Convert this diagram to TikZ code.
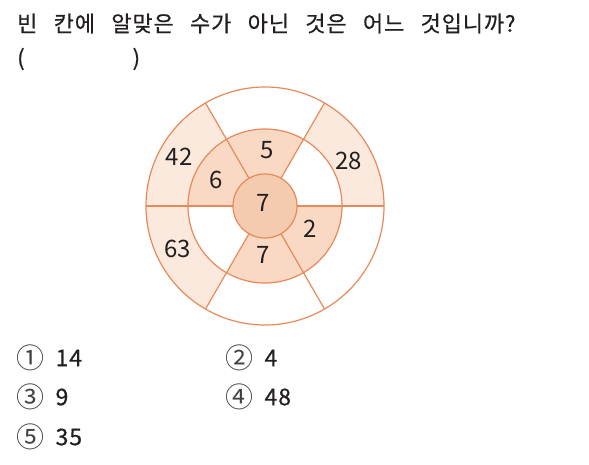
\documentclass[tikz,border=0pt]{standalone}
\usepackage{fontspec}
\setmainfont{Noto Sans CJK KR}
\newfontfamily\questionfont[FakeBold = 0.6, LetterSpace = 4, WordSpace = 2.8]{Noto Sans CJK KR}
\usetikzlibrary{positioning}
\definecolor{wheelorange}{HTML}{E8895A}
\definecolor{outerfill}{HTML}{FCE9DD}
\definecolor{midfill}{HTML}{F9D9C4}
\definecolor{hubfill}{HTML}{F5CBB0}
\definecolor{inkgray}{HTML}{231F20}
\tikzset{
  qtext/.style = {anchor = west, inner sep = 0pt, text = inkgray, font = \questionfont\fontsize{22}{26}\selectfont},
  numtext/.style = {inner sep = 0pt, text = inkgray, font = \fontsize{24}{28}\selectfont},
  marktext/.style = {anchor = west, inner sep = 0pt, text = inkgray!85, font = \fontsize{28}{30}\selectfont},
  opttext/.style = {anchor = west, inner sep = 0pt, text = inkgray, font = \questionfont\fontsize{23}{26}\selectfont},
  wheelline/.style = {draw = wheelorange, line width = 1.2pt}
}
\begin{document}
\begin{tikzpicture}[x = 1pt, y = 1pt]
  \useasboundingbox (0, 0) rectangle (589, -464);
  % question
  \node[qtext] (title) at (17, -23.5) {빈 칸에 알맞은 수가 아닌 것은 어느 것입니까?};
  \node[qtext] (blank) at (17, -59) {(\hspace{108pt})};

  % wheel
  \begin{scope}[shift = {(265, -206)}]
    \foreach \a/\b in {0/60, 120/180, 180/240}
      \fill[outerfill] (\a:77) arc[start angle = \a, end angle = \b, radius = 77] -- (\b:119) arc[start angle = \b, end angle = \a, radius = 119] -- cycle;
    \foreach \a/\b in {60/120, 120/180, 240/300, 300/360}
      \fill[midfill] (\a:32) arc[start angle = \a, end angle = \b, radius = 32] -- (\b:77) arc[start angle = \b, end angle = \a, radius = 77] -- cycle;
    \draw[wheelline] (0, 0) circle[radius = 119];
    \draw[wheelline] (0, 0) circle[radius = 77];
    \foreach \a in {0, 60, ..., 300}
      \draw[wheelline] (\a:32) -- (\a:119);
    \filldraw[wheelline, fill = hubfill] (0, 0) circle[radius = 32];

    \node[numtext] (hub) at (-2, 3) {7};
    \node[numtext] (top) at (88:56) {5};
    \node[numtext] (upleft) at (152:55) {6};
    \node[numtext] (lowright) at (-27:51) {2};
    \node[numtext] (bottom) at (268:49) {7};
    \node[numtext] (outer28) at (28:95) {28};
    \node[numtext] (outer42) at (150:99) {42};
    \node[numtext] (outer63) at (206:97) {63};
  \end{scope}

  % choices
  \node[marktext] (c1) at (16, -358) {①};
  \node[opttext, right = 11pt of c1] (a1) {14};
  \node[marktext] (c2) at (225, -358) {②};
  \node[opttext, right = 11pt of c2] (a2) {4};
  \node[marktext] (c3) at (16, -397) {③};
  \node[opttext, right = 11pt of c3] (a3) {9};
  \node[marktext] (c4) at (225, -397) {④};
  \node[opttext, right = 11pt of c4] (a4) {48};
  \node[marktext] (c5) at (16, -437) {⑤};
  \node[opttext, right = 11pt of c5] (a5) {35};
\end{tikzpicture}
\end{document}
